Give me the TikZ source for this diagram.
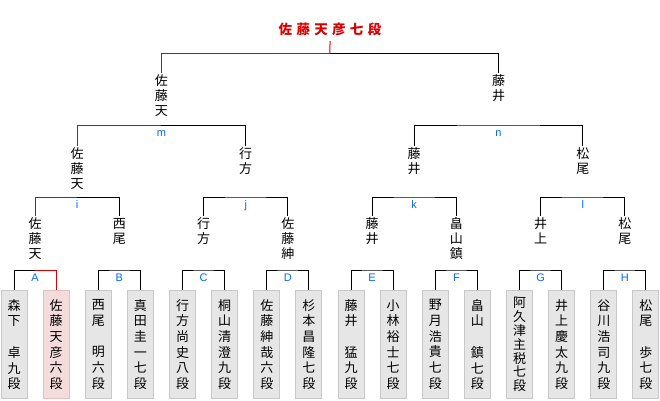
\documentclass[tikz,border=0pt]{standalone}
\usepackage{fontspec}
\newfontfamily\cjk{Noto Sans CJK JP}
\newfontfamily\labfont{Liberation Sans}
\definecolor{winred}{HTML}{DD0000}
\definecolor{labblue}{HTML}{0066FF}
\definecolor{boxgray}{HTML}{E6E6E6}
\definecolor{boxedge}{HTML}{C8C8C8}
\definecolor{winfill}{HTML}{F5DCDC}
\definecolor{winedge}{HTML}{E6BEBE}
\begin{document}
\begin{tikzpicture}[x=1pt,y=-1pt,
  blk/.style={draw=black, line width=1pt},
  redpath/.style={draw=winred, line width=1pt},
  lvl/.style={font=\cjk\fontsize{13}{15}\selectfont, align=center, inner sep=0pt, outer ysep=2pt, anchor=north},
  player/.style={draw=boxedge, fill=boxgray, line width=1pt, minimum width=26pt, minimum height=108pt, anchor=north, inner sep=0pt, align=center, font=\cjk\fontsize{13}{15.7}\selectfont},
  winner/.style={player, draw=winedge, fill=winfill},
  lab/.style={font=\labfont\fontsize{11}{11}\selectfont, text=labblue, anchor=base, inner sep=0pt},
  champ/.style={font=\cjk\bfseries\fontsize{13.5}{15}\selectfont\addfontfeatures{LetterSpace=32}, text=winred, inner sep=0pt, outer ysep=5pt, anchor=south}
]
\useasboundingbox (0,0) rectangle (660,400);
% players
\node[player] (p0) at (14.00,290) {森\\下\\　\\卓\\九\\段};
\node[winner] (p1) at (56.13,290) {佐\\藤\\天\\彦\\六\\段};
\node[player] (p2) at (98.26,290) {西\\尾\\　\\明\\六\\段};
\node[player] (p3) at (140.39,290) {真\\田\\圭\\一\\七\\段};
\node[player] (p4) at (182.52,290) {行\\方\\尚\\史\\八\\段};
\node[player] (p5) at (224.65,290) {桐\\山\\清\\澄\\九\\段};
\node[player] (p6) at (266.78,290) {佐\\藤\\紳\\哉\\六\\段};
\node[player] (p7) at (308.91,290) {杉\\本\\昌\\隆\\七\\段};
\node[player] (p8) at (351.04,290) {藤\\井\\　\\猛\\九\\段};
\node[player] (p9) at (393.17,290) {小\\林\\裕\\士\\七\\段};
\node[player] (p10) at (435.30,290) {野\\月\\浩\\貴\\七\\段};
\node[player] (p11) at (477.43,290) {畠\\山\\　\\鎮\\七\\段};
\node[player, font=\cjk\fontsize{13}{13.9}\selectfont] (p12) at (519.56,290) {阿\\久\\津\\主\\税\\七\\段};
\node[player] (p13) at (561.69,290) {井\\上\\慶\\太\\九\\段};
\node[player] (p14) at (603.82,290) {谷\\川\\浩\\司\\九\\段};
\node[player] (p15) at (645.95,290) {松\\尾\\　\\歩\\七\\段};
% level 3
\node[lvl] (wA) at (35.07,216) {佐\\藤\\天};
\node[lvl] (wB) at (119.33,216) {西\\尾};
\node[lvl] (wC) at (203.59,216) {行\\方};
\node[lvl] (wD) at (287.85,216) {佐\\藤\\紳};
\node[lvl] (wE) at (372.11,216) {藤\\井};
\node[lvl] (wF) at (456.37,216) {畠\\山\\鎮};
\node[lvl] (wG) at (540.63,216) {井\\上};
\node[lvl] (wH) at (624.89,216) {松\\尾};
% level 2
\node[lvl] (wi) at (77.20,146) {佐\\藤\\天};
\node[lvl] (wj) at (245.72,146) {行\\方};
\node[lvl] (wk) at (414.24,146) {藤\\井};
\node[lvl] (wl) at (582.76,146) {松\\尾};
% level 1
\node[lvl] (wm) at (161.46,73) {佐\\藤\\天};
\node[lvl] (wn) at (498.50,73) {藤\\井};
% champion
\node[champ] (win) at (330,41) {佐藤天彦七段};
% bracket midpoints
\coordinate (mA) at (35.07,270);
\coordinate (mB) at (119.33,270);
\coordinate (mC) at (203.59,270);
\coordinate (mD) at (287.85,270);
\coordinate (mE) at (372.11,270);
\coordinate (mF) at (456.37,270);
\coordinate (mG) at (540.63,270);
\coordinate (mH) at (624.89,270);
\coordinate (mi) at (77.20,197);
\coordinate (mj) at (245.72,197);
\coordinate (mk) at (414.24,197);
\coordinate (ml) at (582.76,197);
\coordinate (mm) at (161.46,125);
\coordinate (mn) at (498.50,125);
\coordinate (mt) at (329.98,53);
% black brackets
\draw[blk] (p0.north) |- (mA);
\draw[blk] (p2.north) |- (mB) -| (p3.north);
\draw[blk] (p4.north) |- (mC) -| (p5.north);
\draw[blk] (p6.north) |- (mD) -| (p7.north);
\draw[blk] (p8.north) |- (mE) -| (p9.north);
\draw[blk] (p10.north) |- (mF) -| (p11.north);
\draw[blk] (p12.north) |- (mG) -| (p13.north);
\draw[blk] (p14.north) |- (mH) -| (p15.north);
\draw[blk] (mi) -| (wB.north);
\draw[blk] (wC.north) |- (mj) -| (wD.north);
\draw[blk] (wE.north) |- (mk) -| (wF.north);
\draw[blk] (wG.north) |- (ml) -| (wH.north);
\draw[blk] (mm) -| (wj.north);
\draw[blk] (wk.north) |- (mn) -| (wl.north);
\draw[blk] (mt) -| (wn.north);
% red path
\draw[redpath] (mA) -| (p1.north);
\draw[redpath] (wA.north) |- (mi);
\draw[redpath] (wi.north) |- (mm);
\draw[redpath] (wm.north) |- (mt);
\draw[redpath] (win.south) -- (mt);
% labels
\node[lab] (lA) at (35.07,281.5) {A};
\node[lab] (lB) at (119.33,281.5) {B};
\node[lab] (lC) at (203.59,281.5) {C};
\node[lab] (lD) at (287.85,281.5) {D};
\node[lab] (lE) at (372.11,281.5) {E};
\node[lab] (lF) at (456.37,281.5) {F};
\node[lab] (lG) at (540.63,281.5) {G};
\node[lab] (lH) at (624.89,281.5) {H};
\node[lab] (li) at (77.20,208.5) {i};
\node[lab] (lj) at (245.72,208.5) {j};
\node[lab] (lk) at (414.24,208.5) {k};
\node[lab] (ll) at (582.76,208.5) {l};
\node[lab] (lm) at (161.46,136.5) {m};
\node[lab] (ln) at (498.50,136.5) {n};
\end{tikzpicture}
\end{document}
